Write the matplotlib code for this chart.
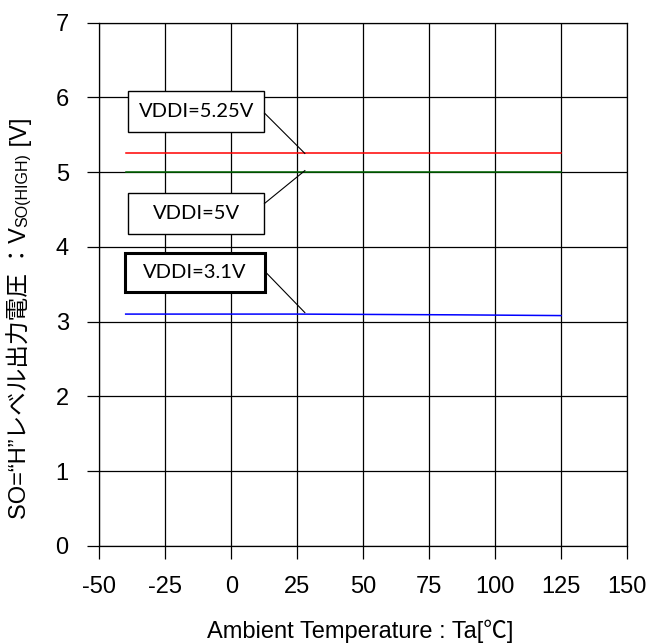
import matplotlib
matplotlib.use("Agg")
import matplotlib.pyplot as plt
from matplotlib.patches import Rectangle

# temperature points [°C]
temps = [-40, 0, 25, 85, 125]
# SO "H" level output voltage [V]
v_525 = [5.25, 5.25, 5.25, 5.25, 5.25]
v_500 = [5.00, 5.00, 5.00, 5.00, 5.00]
v_310 = [3.10, 3.10, 3.10, 3.09, 3.08]

series_labels = ["VDDI=5.25V", "VDDI=5V", "VDDI=3.1V"]
series_colors = ["#ff0000", "#006600", "#0000ff"]

x_ticks = [-50, -25, 0, 25, 50, 75, 100, 125, 150]
y_ticks = [0, 1, 2, 3, 4, 5, 6, 7]

# callout boxes (x, y, w, h) in data units, leader start / end, border width
box_rects = [(-39.1, 5.54, 51.7, 0.54), (-39.1, 4.17, 51.7, 0.55), (-40.2, 3.39, 53.0, 0.53)]
leader_from = [(12.6, 5.79), (12.6, 4.58), (12.8, 3.67)]
leader_to = [(27.9, 5.25), (27.9, 5.02), (27.9, 3.12)]
box_lw = [1.0, 1.0, 2.2]

plt.rcParams["font.family"] = ["Liberation Sans", "Noto Sans CJK JP", "DejaVu Sans"]
plt.rcParams["axes.unicode_minus"] = False

fig = plt.figure(figsize=(6.52, 6.44), dpi=100)
ax = fig.add_axes([0.1523, 0.1526, 0.8094, 0.8122])

for ys, c in zip([v_525, v_500, v_310], series_colors):
    ax.plot(temps, ys, color=c, lw=1.1, zorder=3)

ax.set_xlim(-50, 150)
ax.set_ylim(0, 7)
ax.set_xticks(x_ticks)
ax.set_yticks(y_ticks)
ax.grid(True, color="black", lw=0.9)
ax.set_axisbelow(True)
for s in ax.spines.values():
    s.set_color("black")
    s.set_linewidth(0.9)
ax.tick_params(direction="out", length=9, width=0.9, labelsize=17, pad=13, color="black")

for (bx, by, bw, bh), txt, lw, p0, p1 in zip(box_rects, series_labels, box_lw, leader_from, leader_to):
    ax.add_patch(Rectangle((bx, by), bw, bh, facecolor="white", edgecolor="black", lw=lw, zorder=4))
    ax.text(bx + bw / 2, by + bh / 2, txt, ha="center", va="center", fontsize=14.5,
            family="Lato", zorder=5)
    ax.plot([p0[0], p1[0]], [p0[1], p1[1]], color="black", lw=0.8, zorder=5)

# x axis title
fig.text(360 / 652, 6 / 644, "Ambient Temperature : Ta[\u2103]", ha="center", va="baseline", fontsize=17)

# y axis title, built from pieces so the subscript can be smaller
renderer = fig.canvas.get_renderer()
W, H = fig.bbox.width, fig.bbox.height
pieces = [("SO=\u201cH\u201d\u30ec\u30d9\u30eb\u51fa\u529b\u96fb\u5727 \uff1aV", 17),
          ("SO(HIGH)", 11.5),
          (" [V]", 17)]
px, py = 27.0, 644 - 519.0
for s, fs in pieces:
    t = fig.text(px / W, py / H, s, rotation=90, rotation_mode="anchor",
                 ha="left", va="baseline", fontsize=fs)
    py += t.get_window_extent(renderer).height

fig.savefig("out.png", dpi=100)
